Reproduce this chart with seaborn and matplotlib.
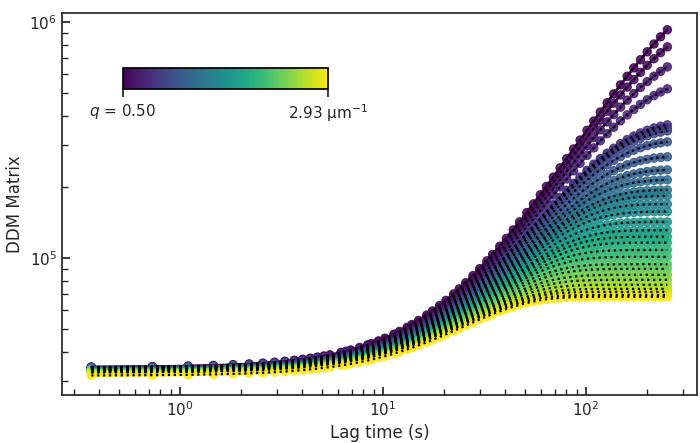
import numpy as np
import pandas as pd
import matplotlib.pyplot as plt
import seaborn as sns

# lag frames (log spaced) and frame interval in seconds
frames = [1, 2, 3, 4, 5, 6, 7, 8, 9, 10, 11, 12, 13, 14, 15, 17, 18, 19, 21, 23,
          24, 26, 28, 31, 33, 36, 38, 41, 45, 48, 52, 56, 61, 65, 70, 76, 82, 89,
          95, 103, 111, 120, 129, 140, 151, 163, 175, 189, 204, 220, 238, 256,
          277, 299, 322, 348, 375, 405, 437, 471, 508, 548, 592, 638, 689]
frame_interval = 0.365

# wavevectors (um^-1)
q_values = [0.50, 0.58, 0.67, 0.75, 0.84, 0.92, 1.00, 1.09, 1.17, 1.25,
            1.34, 1.42, 1.51, 1.59, 1.67, 1.76, 1.84, 1.93, 2.01, 2.09,
            2.18, 2.26, 2.35, 2.43, 2.51, 2.60, 2.68, 2.77, 2.85, 2.93]

# DDM value at the longest lag
end_values = [9.25e5, 7.83e5, 6.44e5, 5.20e5, 3.66e5, 3.56e5, 3.45e5, 3.10e5,
              2.68e5, 2.36e5, 2.14e5, 1.94e5, 1.83e5, 1.69e5, 1.57e5, 1.42e5,
              1.31e5, 1.23e5, 1.16e5, 1.08e5, 1.01e5, 9.40e4, 8.98e4, 8.47e4,
              8.07e4, 7.69e4, 7.39e4, 7.18e4, 6.97e4, 6.84e4]

# background (short lag plateau)
background = [34400, 34300, 34300, 34200, 34200, 34100, 34100, 34000, 34000, 33900,
              33900, 33800, 33800, 33700, 33700, 33600, 33600, 33500, 33500, 33400,
              33400, 33300, 33300, 33200, 33100, 33000, 32900, 32800, 32600, 31700]

# decay times (s)
tau = [260, 212, 175, 146, 110, 108, 107, 100, 90, 83, 77, 72, 69, 65, 62,
       57, 54, 51, 49, 46, 43, 40, 39, 37, 35, 33, 32, 31, 30, 30]
beta = 1.5

lag = np.array(frames) * frame_interval

rows = []
for q, e, b, tc in zip(q_values, end_values, background, tau):
    f_end = 1 - np.exp(-(lag[-1] / tc) ** beta)
    amp = (e - b) / f_end
    ddm = amp * (1 - np.exp(-(lag / tc) ** beta)) + b
    for t, v in zip(lag, ddm):
        rows.append({'q': q, 'lag': t, 'ddm': v})
df = pd.DataFrame(rows)

sns.set_theme(style='ticks')
fig, ax = plt.subplots(figsize=(7, 4.43), dpi=100)
ax.set_xscale('log')
ax.set_yscale('log')

sns.scatterplot(data=df, x='lag', y='ddm', hue='q', palette='viridis',
                hue_norm=(0.5, 2.93), s=36, alpha=0.85, edgecolor='face',
                linewidth=0.8, legend=False, ax=ax, zorder=2)
# fit curves: coloured line with black dots on top
sns.lineplot(data=df, x='lag', y='ddm', hue='q', palette='viridis',
             hue_norm=(0.5, 2.93), units='q', estimator=None, linewidth=2,
             legend=False, ax=ax, zorder=3)
sns.lineplot(data=df, x='lag', y='ddm', units='q', estimator=None, color='black',
             linestyle=':', linewidth=1.6, legend=False, ax=ax, zorder=4)

ax.set_xlim(0.262, 352)
ax.set_ylim(2.62e4, 1.09e6)
ax.set_xlabel('Lag time (s)', fontsize=12)
ax.set_ylabel('DDM Matrix', fontsize=12)
ax.tick_params(which='both', direction='in')
ax.tick_params(which='major', labelsize=11)

fig.subplots_adjust(left=0.0886, right=0.9957, top=0.9707, bottom=0.108)

cax = fig.add_axes([0.1757, 0.799, 0.293, 0.0474])
sm = plt.cm.ScalarMappable(norm=plt.Normalize(0.5, 2.93), cmap='viridis')
cb = fig.colorbar(sm, cax=cax, orientation='horizontal', ticks=[0.5, 2.93])
cb.ax.set_xticklabels(['$q$ = 0.50', '2.93 μm$^{-1}$'], fontsize=11)
cb.outline.set_edgecolor('black')

fig.savefig('out.png', dpi=100)
